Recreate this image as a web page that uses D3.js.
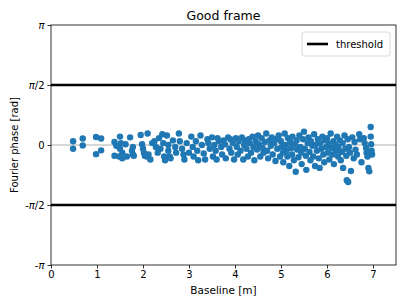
<!DOCTYPE html>
<html>
<head>
<meta charset="utf-8">
<script src="https://cdn.jsdelivr.net/npm/d3@7"></script>
<style>
  body { margin: 0; background: #fff; }
  text { font-family: "DejaVu Sans", sans-serif; }
</style>
</head>
<body>
<div id="chart"></div>
<script>
// Baseline [m] and phase [rad] for each measured pair
const baseline = [
  0.48, 0.48, 0.69, 0.69, 0.98, 0.98, 1.09, 1.09,
  1.38, 1.42, 1.38, 1.50, 1.52, 1.50, 1.55, 1.48, 1.55, 1.62, 1.65, 1.72, 1.78, 1.76, 1.78, 1.80,
  1.95, 1.98, 2.00, 2.02, 2.04, 2.08, 2.10, 2.12, 2.16, 2.20, 2.25, 2.28, 2.32, 2.35, 2.38, 2.42, 2.44, 2.46, 2.48,
  2.52, 2.55, 2.55, 2.58, 2.60, 2.65, 2.70, 2.72, 2.78, 2.80, 2.85, 2.88, 2.90, 2.95, 3.00, 3.05, 3.08, 3.10, 3.15, 3.18, 3.20, 3.25, 3.28,
  3.32, 3.35, 3.40, 3.42, 3.45, 3.50, 3.52, 3.55, 3.58, 3.60, 3.62, 3.65, 3.70, 3.72, 3.75, 3.78, 3.80, 3.85, 3.88, 3.90, 3.92, 3.95, 3.98,
  4.02, 4.04, 4.06, 4.08, 4.12, 4.15, 4.18, 4.20, 4.22, 4.25, 4.28, 4.30, 4.32, 4.35, 4.38, 4.40, 4.42, 4.45, 4.48, 4.50,
  4.52, 4.55, 4.58, 4.60, 4.62, 4.65, 4.68, 4.70, 4.72, 4.75, 4.78, 4.80, 4.82, 4.85, 4.88, 4.90, 4.92, 4.95, 4.98,
  5.00, 5.02, 5.04, 5.05, 5.08, 5.10, 5.12, 5.14, 5.15, 5.18, 5.20, 5.22, 5.24, 5.25, 5.28, 5.30, 5.32, 5.34, 5.35, 5.38,
  5.40, 5.42, 5.44, 5.45, 5.48, 5.50, 5.52, 5.54, 5.55, 5.58, 5.60, 5.62, 5.64, 5.65, 5.68, 5.70, 5.72, 5.74, 5.75, 5.78,
  5.80, 5.82, 5.84, 5.85, 5.88, 5.90, 5.92, 5.94, 5.95, 5.98,
  6.00, 6.02, 6.04, 6.05, 6.08, 6.10, 6.12, 6.14, 6.15, 6.18, 6.20, 6.22, 6.24, 6.25, 6.28, 6.30, 6.32, 6.34, 6.35, 6.38,
  6.40, 6.42, 6.43, 6.45, 6.46, 6.48, 6.50, 6.52, 6.55, 6.58, 6.60, 6.62, 6.65, 6.70, 6.72, 6.75, 6.80, 6.82, 6.85, 6.86,
  6.88, 6.90, 6.92, 6.95, 6.95, 6.96, 6.97, 6.98
];
const phase = [
  0.10, -0.10, 0.17, -0.01, 0.21, -0.24, 0.17, -0.14,
  0.08, -0.02, -0.28, 0.22, 0.05, -0.10, -0.20, -0.30, -0.35, 0.02, -0.30, 0.20, -0.05, -0.15, -0.25, -0.28,
  0.26, 0.02, -0.10, -0.20, -0.28, -0.30, 0.30, -0.25, -0.38, 0.05, 0.10, -0.05, -0.20, 0.18, -0.10, 0.28, 0.05, -0.30, -0.40,
  0.25, 0.00, -0.15, -0.30, -0.35, 0.12, -0.05, -0.20, 0.30, 0.10, -0.10, -0.25, -0.38, 0.05, -0.20, 0.22, -0.05, -0.30, 0.10, -0.15, -0.40, 0.25, 0.00,
  -0.22, -0.38, 0.15, 0.05, -0.10, 0.20, -0.30, 0.00, -0.15, -0.38, 0.18, 0.10, -0.05, -0.25, 0.12, 0.02, -0.35, 0.20, -0.10, 0.15, -0.20, 0.05, -0.38,
  0.18, -0.05, -0.25, 0.10, -0.15, 0.20, -0.38, 0.00, 0.12, -0.10, -0.30, 0.15, 0.05, -0.20, 0.22, -0.05, -0.40, 0.10, -0.12, 0.25,
  0.02, -0.30, 0.18, -0.08, -0.20, 0.08, 0.30, -0.15, -0.35, 0.12, -0.02, 0.20, -0.25, 0.05, -0.42, 0.15, -0.10, 0.25, -0.30,
  0.10, -0.05, -0.20, -0.45, 0.30, 0.00, -0.15, -0.30, 0.18, -0.55, 0.08, -0.08, -0.25, 0.22, -0.40, 0.02, -0.70, 0.12, -0.12, -0.32,
  0.25, -0.05, -0.20, -0.50, 0.15, 0.35, -0.10, -0.28, -0.65, 0.05, 0.20, -0.18, -0.40, 0.10, -0.02, -0.30, 0.28, -0.55, 0.00, -0.15,
  0.15, -0.35, -0.60, 0.05, -0.10, 0.22, -0.25, -0.45, 0.12, -0.05,
  0.18, -0.20, 0.05, -0.38, 0.30, -0.08, -0.25, 0.10, -0.50, 0.00, -0.15, 0.22, -0.30, -0.05, 0.12, -0.40, -0.18, 0.05, -0.60, 0.25,
  -0.10, -0.28, -0.92, 0.15, -0.97, -0.05, -0.20, -0.68, 0.20, -0.35, 0.08, -0.12, -0.25, 0.28, 0.15, -0.45, 0.18, 0.05, -0.08, -0.20,
  -0.30, -0.60, -0.69, 0.47, 0.22, 0.02, -0.15, -0.25
];
const threshold = Math.PI / 2;
const xTicks = [0, 1, 2, 3, 4, 5, 6, 7];
const yTicks = [-Math.PI, -Math.PI / 2, 0, Math.PI / 2, Math.PI];
const yTickLabels = [["-", "π", ""], ["-", "π", "/2"], ["0", "", ""], ["", "π", "/2"], ["", "π", ""]];

const svg = d3.select("#chart").append("svg")
    .attr("width", 407)
    .attr("height", 305);

const margin = { top: 25, right: 11, bottom: 40, left: 51 },
    width = 407 - margin.left - margin.right,
    height = 305 - margin.top - margin.bottom;

const x = d3.scaleLinear().domain([0, 7.5]).range([margin.left, margin.left + width]);
const y = d3.scaleLinear().domain([-Math.PI, Math.PI]).range([margin.top + height, margin.top]);

// zero line
svg.append("line")
    .attr("x1", x(0)).attr("x2", x(7.5))
    .attr("y1", y(0)).attr("y2", y(0))
    .attr("stroke", "#b0b0b0").attr("stroke-width", 1);

// threshold lines
[threshold, -threshold].forEach(t => {
    svg.append("line")
        .attr("x1", x(0)).attr("x2", x(7.5))
        .attr("y1", y(t)).attr("y2", y(t))
        .attr("stroke", "#000").attr("stroke-width", 2.6);
});

const points = baseline.map((b, i) => ({ b: b, p: phase[i] }));
svg.selectAll(".dot")
    .data(points)
    .join("circle")
    .attr("class", "dot")
    .attr("cx", d => x(d.b))
    .attr("cy", d => y(d.p))
    .attr("r", 3.2)
    .attr("fill", "#1f77b4");

// axes
const xAxis = svg.append("g")
    .attr("transform", `translate(0,${margin.top + height})`)
    .call(d3.axisBottom(x).tickValues(xTicks).tickSize(3.5).tickPadding(2).tickFormat(d3.format("d")));
const yAxis = svg.append("g")
    .attr("transform", `translate(${margin.left},0)`)
    .call(d3.axisLeft(y).tickValues(yTicks).tickSize(3.5).tickPadding(3).tickFormat(""));

[xAxis, yAxis].forEach(g => {
    g.select(".domain").remove();
    g.selectAll("line").attr("stroke", "#000").attr("stroke-width", 0.8);
    g.selectAll("text").attr("font-size", 10).attr("fill", "#000").attr("font-family", "DejaVu Sans");
});

yAxis.selectAll(".tick text").each(function(d, i) {
    const lab = yTickLabels[i];
    const t = d3.select(this);
    t.text(null);
    if (lab[0]) t.append("tspan").text(lab[0]);
    if (lab[1]) t.append("tspan").attr("font-style", "italic").text(lab[1]);
    if (lab[2]) t.append("tspan").text(lab[2]);
});

// frame
svg.append("rect")
    .attr("x", margin.left).attr("y", margin.top)
    .attr("width", width).attr("height", height)
    .attr("fill", "none").attr("stroke", "#000").attr("stroke-width", 0.8);

// title and labels
svg.append("text")
    .attr("x", margin.left + width / 2).attr("y", 20)
    .attr("text-anchor", "middle").attr("font-size", 12.5)
    .text("Good frame");

svg.append("text")
    .attr("text-anchor", "middle")
    .attr("x", margin.left + width / 2)
    .attr("y", 294)
    .attr("font-size", 10.5)
    .text("Baseline [m]");

svg.append("text")
    .attr("text-anchor", "middle")
    .attr("transform", `translate(18,${margin.top + height / 2}) rotate(-90)`)
    .attr("font-size", 10)
    .text("Fourier phase [rad]");

// legend
const legend = svg.append("g").attr("transform", "translate(302,32)");
legend.append("rect")
    .attr("width", 88).attr("height", 24).attr("rx", 2)
    .attr("fill", "#fff").attr("fill-opacity", 0.8)
    .attr("stroke", "#d0d0d0").attr("stroke-width", 0.8);
legend.append("line")
    .attr("x1", 5).attr("x2", 26).attr("y1", 12).attr("y2", 12)
    .attr("stroke", "#000").attr("stroke-width", 2.6);
legend.append("text")
    .attr("x", 34).attr("y", 16)
    .attr("font-size", 10)
    .text("threshold");
</script>
</body>
</html>
